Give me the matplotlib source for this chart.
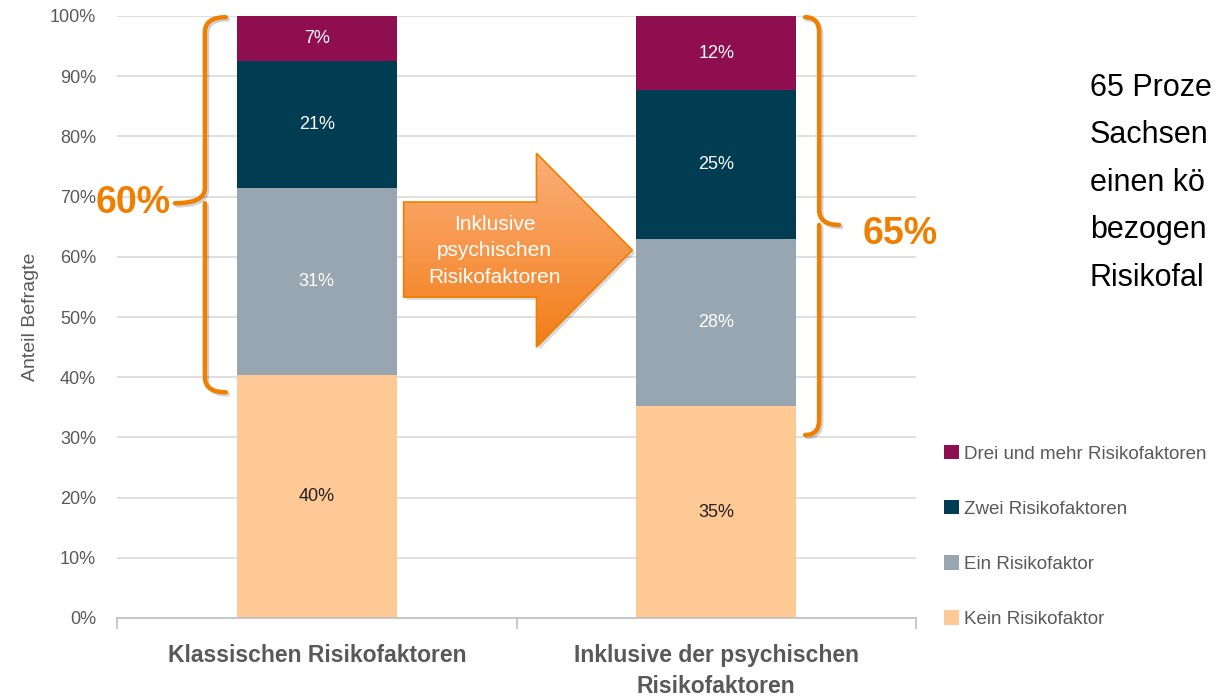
import numpy as np
import matplotlib
matplotlib.use("Agg")
import matplotlib.pyplot as plt
import matplotlib.patches as patches
import matplotlib.transforms as mtransforms
from matplotlib.path import Path

plt.rcParams['font.family'] = ['Liberation Sans', 'DejaVu Sans']

# Data (percent of respondents)
categories = ["Klassischen Risikofaktoren", "Inklusive der psychischen\nRisikofaktoren"]
series_names = ["Kein Risikofaktor", "Ein Risikofaktor", "Zwei Risikofaktoren", "Drei und mehr Risikofaktoren"]
kein = [40.3, 35.2]
ein = [31.1, 27.8]
zwei = [21.2, 24.7]
drei = [7.4, 12.3]
brace_totals = ["60%", "65%"]

colors = ["#FEC994", "#97A6B1", "#003D52", "#8E0E4F"]
label_colors = ["#222222", "white", "white", "white"]
orange = "#EE7F00"
gray = "#595959"

fig = plt.figure(figsize=(12.2, 7), dpi=100)
ax = fig.add_axes([117 / 1220, 82 / 700, 799 / 1220, 602 / 700])

x = np.arange(len(categories))
bottom = np.zeros(len(categories))
handles = []
for vals, col, lc, name in zip([kein, ein, zwei, drei], colors, label_colors, series_names):
    bars = ax.bar(x, vals, width=0.4, bottom=bottom, color=col, label=name, zorder=2)
    handles.append(bars)
    for xi, v, b in zip(x, vals, bottom):
        ax.text(xi, b + v / 2, f"{round(v)}%", ha="center", va="center",
                color=lc, fontsize=13, zorder=3)
    bottom += np.array(vals)

ax.set_xlim(-0.5, 1.5)
ax.set_ylim(0, 100)
ax.set_yticks(np.arange(0, 101, 10))
ax.set_yticklabels([f"{v}%" for v in range(0, 101, 10)], color=gray, fontsize=13)
ax.yaxis.grid(True, color="#D9D9D9", linewidth=1.2, zorder=0)
ax.set_axisbelow(True)
ax.tick_params(axis="y", length=0, pad=15)
ax.set_xticks(x)
ax.set_xticklabels(categories, fontsize=16.5, fontweight="bold", color=gray, linespacing=1.45)
ax.tick_params(axis="x", which="major", length=0, pad=19)
ax.set_xticks([-0.5, 0.5, 1.5], minor=True)
ax.tick_params(axis="x", which="minor", length=8, color="#BFBFBF", width=1.2)
for s in ["top", "right", "left"]:
    ax.spines[s].set_visible(False)
ax.spines["bottom"].set_color("#BFBFBF")
ax.spines["bottom"].set_linewidth(1.2)
ax.set_ylabel("Anteil Befragte", color=gray, fontsize=14, labelpad=8)


def brace(ax, sx, ex, tipx, ytop, ybot, ytip, r=2.5):
    verts = [(ex, ytop), (sx, ytop), (sx, ytop - r),
             (sx, ytip + r), (sx, ytip), (tipx, ytip),
             (sx, ytip), (sx, ytip - r),
             (sx, ybot + r), (sx, ybot), (ex, ybot)]
    codes = [Path.MOVETO, Path.CURVE3, Path.CURVE3,
             Path.LINETO, Path.CURVE3, Path.CURVE3,
             Path.MOVETO, Path.CURVE3,
             Path.LINETO, Path.CURVE3, Path.CURVE3]
    path = Path(verts, codes)
    shadow_tr = mtransforms.offset_copy(ax.transData, fig=fig, x=1.5, y=-1.5, units="points")
    ax.add_patch(patches.PathPatch(path, facecolor="none", edgecolor="black", alpha=0.18,
                                   linewidth=3.2, capstyle="round", clip_on=False, zorder=4,
                                   transform=shadow_tr))
    ax.add_patch(patches.PathPatch(path, facecolor="none", edgecolor=orange,
                                   linewidth=3.2, capstyle="round", clip_on=False, zorder=5))


brace(ax, -0.28, -0.2275, -0.355, 99.8, 37.5, 68.9)
brace(ax, 1.2575, 1.2225, 1.3075, 99.8, 30.4, 65.3)
ax.text(-0.46, 68.9, brace_totals[0], color=orange, fontsize=27, fontweight="bold",
        ha="center", va="center", zorder=6)
ax.text(1.46, 63.8, brace_totals[1], color=orange, fontsize=27, fontweight="bold",
        ha="center", va="center", zorder=6)

# Arrow with gradient fill
arrow_pts = [(0.2175, 53.3), (0.2175, 69.1), (0.55, 69.1), (0.55, 77.2),
             (0.79, 61.1), (0.55, 45.0), (0.55, 53.3)]
shadow_tr = mtransforms.offset_copy(ax.transData, fig=fig, x=2, y=-2, units="points")
ax.add_patch(patches.Polygon(arrow_pts, closed=True, facecolor="black", edgecolor="none",
                             alpha=0.15, zorder=3, transform=shadow_tr))
arrow = patches.Polygon(arrow_pts, closed=True, facecolor="none", edgecolor="#EE7F00",
                        linewidth=1.2, zorder=5)
ax.add_patch(arrow)
grad = np.linspace(0, 1, 256).reshape(-1, 1)
cmap = matplotlib.colors.LinearSegmentedColormap.from_list("og", ["#F27D18", "#FBAF7A"])
im = ax.imshow(grad, extent=(0.2175, 0.79, 45.0, 77.2), origin="lower", cmap=cmap,
               aspect="auto", zorder=4)
im.set_clip_path(arrow)
ax.set_xlim(-0.5, 1.5)
ax.set_ylim(0, 100)
ax.text(0.445, 61.0, "Inklusive\npsychischen\nRisikofaktoren", color="white", fontsize=15,
        ha="center", va="center", linespacing=1.5, zorder=6)

# Legend
fig.legend(handles[::-1], series_names[::-1], loc="upper left",
           bbox_to_anchor=(927 / 1220, 1 - 428 / 700), frameon=False,
           handlelength=0.8, handleheight=0.8, handletextpad=0.3,
           labelspacing=2.0, fontsize=13.5, labelcolor=gray)

# Right side text (only the part visible in the original)
fig.text(1090 / 1220, 1 - 73 / 700,
         "65 Proze\nSachsen\neinen kö\nbezogen\nRisikofal",
         fontsize=22, color="black", ha="left", va="top", linespacing=1.76)

fig.savefig("out.png", dpi=100)
